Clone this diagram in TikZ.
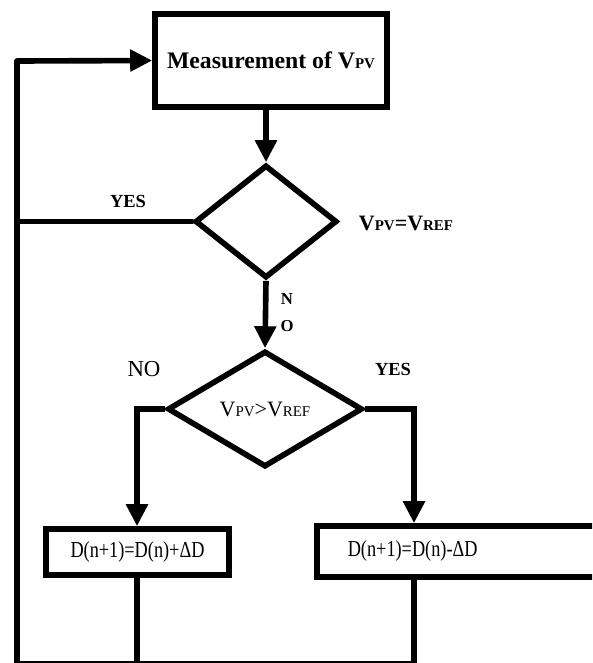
\documentclass[tikz,border=0pt]{standalone}
\usepackage{fontspec}
\setmainfont{Liberation Serif}
\newfontfamily\narrowfont{Liberation Serif}[FakeStretch=0.8]
\usetikzlibrary{shapes.geometric,arrows.meta,positioning}
\tikzset{
  flow/.style={line width=3.2pt,line cap=round},
  arr/.style={line width=3.2pt,-{Triangle[length=0.44cm,width=0.42cm]}},
  procbox/.style={draw,rectangle,line width=3.2pt,inner sep=0pt},
  testbox/.style={draw,diamond,line width=3.2pt,inner sep=0pt},
  lbl/.style={font=\fontsize{10.5}{12}\selectfont\bfseries},
}
\newcommand{\vpv}{V{\fontsize{8.5}{10}\selectfont PV}}
\newcommand{\vref}{V{\fontsize{8.5}{10}\selectfont REF}}
\begin{document}
\begin{tikzpicture}[x=0.02cm,y=-0.02cm]
\useasboundingbox (0,0) rectangle (592,663);
\clip (0,0) rectangle (592,663);
% boxes and tests
\node[procbox,minimum width=4.64cm,minimum height=1.86cm,font=\fontsize{13.5}{14}\selectfont\bfseries](meas) at (271,60.5){Measurement of \vpv};
\node[testbox,minimum width=2.84cm,minimum height=2.26cm](eq) at (266,221.5){};
\node[testbox,minimum width=3.9cm,minimum height=2.32cm,font=\fontsize{12.5}{14}\selectfont](cmp) at (265,409){\vpv>\vref};
\node[procbox,minimum width=3.66cm,minimum height=0.92cm,font=\fontsize{13}{14}\narrowfont](inc) at (137.5,552){D(n+1)=D(n)+ΔD};
\node[procbox,anchor=west,minimum height=1.02cm,text width=4.88cm,inner xsep=0.62cm,align=left,font=\fontsize{13}{14}\narrowfont](dec) at (314,551.5){D(n+1)=D(n)-ΔD};
% corner points
\coordinate (loop) at (17,61);
\coordinate (bot) at (17,664);
\coordinate (nl) at (137,409);
\coordinate (yr) at (414,409);
% connectors
\draw[arr] (loop) -- (meas.west);
\draw[arr] (meas.south -| eq.north) -- (eq.north);
\draw[flow] (eq.west) -- (eq.west -| loop);
\draw[arr] (eq.south) -- (cmp.north);
\draw[arr] (cmp.west) -- (nl) -- (nl |- inc.north);
\draw[arr] (cmp.east) -- (yr) -- (yr |- dec.north);
\draw[flow] (nl |- inc.south) -- (nl |- bot);
\draw[flow] (yr |- dec.south) -- (yr |- bot);
\draw[flow] (loop) -- (bot) -- (yr |- bot);
% labels
\node[lbl](yes1) at (128,201){YES};
\node[font=\fontsize{12.5}{14}\selectfont\bfseries](eqlbl) at (406,223){\vpv=\vref};
\node[font=\fontsize{9.5}{15.3}\selectfont\bfseries,align=center](no1) at (287,313){N\\O};
\node[font=\fontsize{13}{14}\selectfont](no2) at (144,369){NO};
\node[lbl](yes2) at (393,369){YES};
\end{tikzpicture}
\end{document}
